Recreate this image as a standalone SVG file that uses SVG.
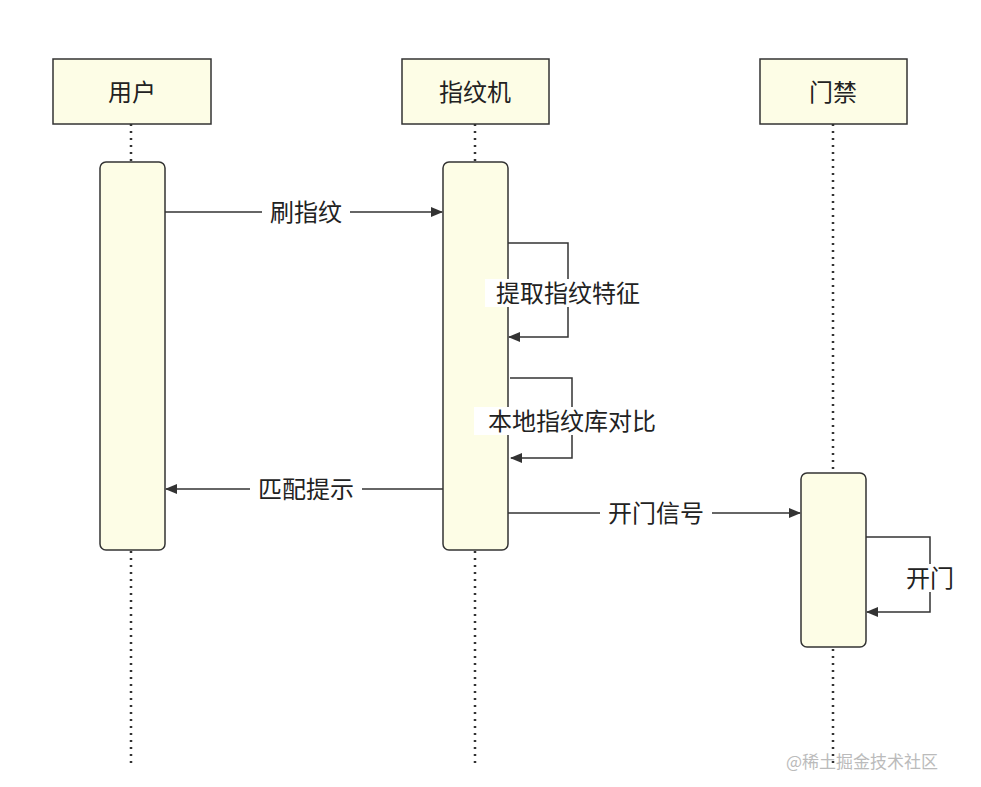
<svg xmlns="http://www.w3.org/2000/svg" width="981" height="787" viewBox="0 0 981 787">
<defs>
<marker id="ah" markerWidth="12" markerHeight="10" refX="11" refY="5" orient="auto" markerUnits="userSpaceOnUse"><path d="M0,0 L12,5 L0,10 Z" fill="#333"/></marker>
<style>
.box{fill:#fdfde6;stroke:#333;stroke-width:1.5}
.life{stroke:#333;stroke-width:2.5;stroke-dasharray:2,5}
.msg{fill:none;stroke:#333;stroke-width:1.5}
text{font-family:"Noto Sans CJK SC","Liberation Sans",sans-serif;font-size:24px;fill:#222;text-anchor:middle;dominant-baseline:central}
.lbl{fill:#fff;stroke:none}
</style>
</defs>
<rect width="981" height="787" fill="#fff"/>
<g id="lifelines">
<line class="life" x1="131" y1="124" x2="131" y2="768"/>
<line class="life" x1="475" y1="124" x2="475" y2="768"/>
<line class="life" x1="833" y1="124" x2="833" y2="768"/>
</g>
<g id="user"><rect class="box" x="53" y="59" width="158" height="65"/><text x="132" y="90">用户</text>
<rect class="box" x="100" y="162" width="65" height="388" rx="6"/></g>
<g id="fp"><rect class="box" x="402" y="59" width="147" height="65"/><text x="475" y="90">指纹机</text>
<rect class="box" x="443" y="162" width="65" height="388" rx="6"/></g>
<g id="door"><rect class="box" x="760" y="59" width="147" height="65"/><text x="833" y="90">门禁</text>
<rect class="box" x="801" y="473" width="65" height="174" rx="6"/></g>
<g id="connectors">
<line class="msg" x1="165" y1="212" x2="442" y2="212" marker-end="url(#ah)"/>
<rect class="lbl" x="262" y="198" width="88" height="28"/><text x="306" y="210">刷指纹</text>
<polyline class="msg" points="508,243 568,243 568,337 509,337" marker-end="url(#ah)"/>
<rect class="lbl" x="485" y="279" width="166" height="28"/><text x="568" y="291">提取指纹特征</text>
<polyline class="msg" points="510,378 572,378 572,458 511,458" marker-end="url(#ah)"/>
<rect class="lbl" x="474" y="407" width="196" height="28"/><text x="572" y="419">本地指纹库对比</text>
<line class="msg" x1="443" y1="489" x2="166" y2="489" marker-end="url(#ah)"/>
<rect class="lbl" x="250" y="475" width="112" height="28"/><text x="306" y="487">匹配提示</text>
<line class="msg" x1="508" y1="513" x2="800" y2="513" marker-end="url(#ah)"/>
<rect class="lbl" x="600" y="499" width="112" height="28"/><text x="656" y="511">开门信号</text>
<polyline class="msg" points="866,537 930,537 930,612 867,612" marker-end="url(#ah)"/>
<rect class="lbl" x="902" y="564" width="56" height="28"/><text x="930" y="576">开门</text>
</g>
<text x="862" y="760" style="font-size:17px;fill:#bbb">@稀土掘金技术社区</text>
</svg>
